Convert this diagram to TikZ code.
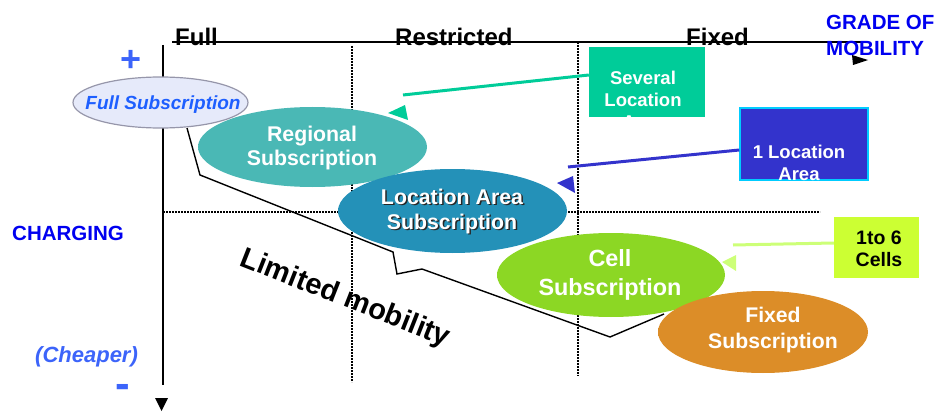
\documentclass[tikz,border=0pt]{standalone}
\usepackage{fontspec}
\setmainfont{Liberation Sans}
\usetikzlibrary{shapes.geometric,calc}

% palette
\definecolor{axisblue}{RGB}{0,0,240}
\definecolor{signblue}{RGB}{60,100,250}
\definecolor{fullfill}{RGB}{230,234,250}
\definecolor{fullline}{RGB}{150,150,170}
\definecolor{fulltext}{RGB}{30,95,255}
\definecolor{regc}{RGB}{74,184,181}
\definecolor{locc}{RGB}{36,145,184}
\definecolor{cellc}{RGB}{140,215,36}
\definecolor{fixc}{RGB}{220,141,40}
\colorlet{regd}{regc!50!black}
\colorlet{locd}{locc!50!black}
\colorlet{celld}{cellc!50!black}
\colorlet{fixd}{fixc!50!black}
\definecolor{sevc}{RGB}{0,204,153}
\definecolor{onec}{RGB}{51,51,204}
\definecolor{onerim}{RGB}{0,204,255}
\definecolor{cellbox}{RGB}{204,255,51}
\definecolor{cellline}{RGB}{205,255,120}

% ellipse fills: flat colour with a darker rim
\pgfdeclareradialshading{regshade}{\pgfpoint{0bp}{0bp}}{color(0bp)=(regc); color(43bp)=(regc); color(50bp)=(regd)}
\pgfdeclareradialshading{locshade}{\pgfpoint{0bp}{0bp}}{color(0bp)=(locc); color(43bp)=(locc); color(50bp)=(locd)}
\pgfdeclareradialshading{cellshade}{\pgfpoint{0bp}{0bp}}{color(0bp)=(cellc); color(43bp)=(cellc); color(50bp)=(celld)}
\pgfdeclareradialshading{fixshade}{\pgfpoint{0bp}{0bp}}{color(0bp)=(fixc); color(43bp)=(fixc); color(50bp)=(fixd)}

\tikzset{
  bubble/.style={ellipse, inner sep=0pt, draw=none},
  bubtext/.style={text=white, align=center, inner sep=0pt},
  axislabel/.style={anchor=base west, inner sep=0pt, font=\bfseries\fontsize{24}{27}\selectfont},
  bluelabel/.style={anchor=base west, inner sep=0pt, text=axisblue, font=\bfseries\fontsize{20.5}{24}\selectfont},
  callbox/.style={rectangle, inner sep=0pt, draw=none},
  calltext/.style={align=center, inner sep=0pt, font=\bfseries\fontsize{18.5}{22}\selectfont},
  axisline/.style={line width=1.8pt},
  gridline/.style={line width=1.2pt, dash pattern=on 2pt off 1pt},
}

\begin{document}
\begin{tikzpicture}[x=1pt,y=-1pt]
\useasboundingbox (0,0) rectangle (938,412);

% grid of mobility grades and charging levels
\draw[gridline] (352,46) -- (352,382);
\draw[gridline] (578,42) -- (578,376);
\draw[gridline] (163,212) -- (820,212);

% axes
\draw[axisline] (172,42) -- (862,42);
\draw[axisline] (163,45) -- (163,385);
\fill (852,55) -- (868,60) -- (853,65) -- cycle;
\fill (155,398) -- (168,398) -- (161.5,411) -- cycle;

% axis texts
\node[axislabel] (gfull) at (175,46) {Full};
\node[axislabel] (grestr) at (395,46) {Restricted};
\node[axislabel] (gfixed) at (686,46) {Fixed};
\node[bluelabel] (grade1) at (826,30) {GRADE OF};
\node[bluelabel] (grade2) at (826,56) {MOBILITY};
\node[bluelabel] (charging) at (12,240) {CHARGING};
\node[anchor=base west, inner sep=0pt, text=signblue, font=\bfseries\itshape\fontsize{22}{26}\selectfont] (cheaper) at (35,362) {(Cheaper)};
\node[inner sep=0pt, text=signblue, font=\bfseries\fontsize{36}{40}\selectfont] (plus) at (131,61) {+};
\node[inner sep=0pt, text=signblue, font=\bfseries\fontsize{44}{48}\selectfont] (minus) at (123,391) {-};

% boundary of limited mobility
\coordinate (lim0) at (187,128);
\coordinate (lim6) at (664,314);
\draw[line width=1.4pt] (lim0) -- (200,175) -- (393,252) -- (397,274) -- (422,269) -- (610,337) -- (lim6);
\node[rotate=-21.5, inner sep=0pt, font=\bfseries\fontsize{29}{32}\selectfont] (limited) at (345,299) {Limited mobility};

% subscription types
\node[bubble, minimum width=229pt, minimum height=80pt, shading=regshade] (reg) at (312.5,147) {};
\node[bubtext, font=\bfseries\fontsize{21.3}{23.5}\selectfont] (regtxt) at (312,148) {Regional\\Subscription};

\node[ellipse, inner sep=0pt, minimum width=175pt, minimum height=51pt, fill=fullfill, draw=fullline, line width=1.2pt] (full) at (160.5,102.5) {};
\node[inner sep=0pt, text=fulltext, font=\bfseries\itshape\fontsize{19}{22}\selectfont] (fulltxt) at (163,105) {Full Subscription};

\node[bubble, minimum width=229pt, minimum height=84pt, shading=locshade] (loc) at (452.5,211) {};
\node[bubtext, text=black!85, font=\bfseries\fontsize{21.3}{25}\selectfont] (locshadow) at (453.5,212.5) {Location Area\\Subscription};
\node[bubtext, font=\bfseries\fontsize{21.3}{25}\selectfont] (loctxt) at (452,211) {Location Area\\Subscription};

\node[bubble, minimum width=228pt, minimum height=84pt, shading=cellshade] (cell) at (611,275) {};
\node[bubtext, font=\bfseries\fontsize{23.4}{29}\selectfont] (celltxt) at (610,275) {Cell\\Subscription};

\node[bubble, minimum width=210pt, minimum height=82pt, shading=fixshade] (fix) at (763,332) {};
\node[bubtext, font=\bfseries\fontsize{21.2}{26}\selectfont] (fixtxt) at (773,330) {Fixed\\Subscription};

% callout: several location areas
\node[callbox, fill=sevc, minimum width=116pt, minimum height=70pt] (sev) at (647,82) {};
\node[calltext, text=white] (sevtxt) at (643,100) {Several\\Location\\Area};
\coordinate (sevtip) at (403,95);
\draw[sevc, line width=3pt] ([yshift=7pt]sev.west) -- (sevtip);
\fill[sevc] ($(sevtip)+(-15,18)$) -- ($(sevtip)+(2,10)$) -- ($(sevtip)+(5,25)$) -- cycle;

% callout: one location area
\node[callbox, fill=onec, draw=onerim, line width=1.5pt, minimum width=128pt, minimum height=72pt] (one) at (804,144) {};
\node[calltext, text=white] (onetxt) at (799,163) {1 Location\\Area};
\coordinate (onetip) at (568,167);
\draw[onec, line width=3pt] ([yshift=-6pt]one.west) -- (onetip);
\fill[onec] ($(onetip)+(-11,16)$) -- ($(onetip)+(5,9)$) -- ($(onetip)+(7,26)$) -- cycle;

% callout: one to six cells
\node[callbox, fill=cellbox, minimum width=85pt, minimum height=61pt] (six) at (876.5,247.5) {};
\node[calltext, text=black, font=\bfseries\fontsize{19.5}{22}\selectfont] (sixtxt) at (879,249) {1to 6\\Cells};
\coordinate (sixtip) at (733,245);
\draw[cellline, line width=3pt] ([yshift=4.5pt]six.west) -- (sixtip);
\fill[cellline] ($(sixtip)+(-11,17)$) -- ($(sixtip)+(3,10)$) -- ($(sixtip)+(3,26)$) -- cycle;

\end{tikzpicture}
\end{document}
